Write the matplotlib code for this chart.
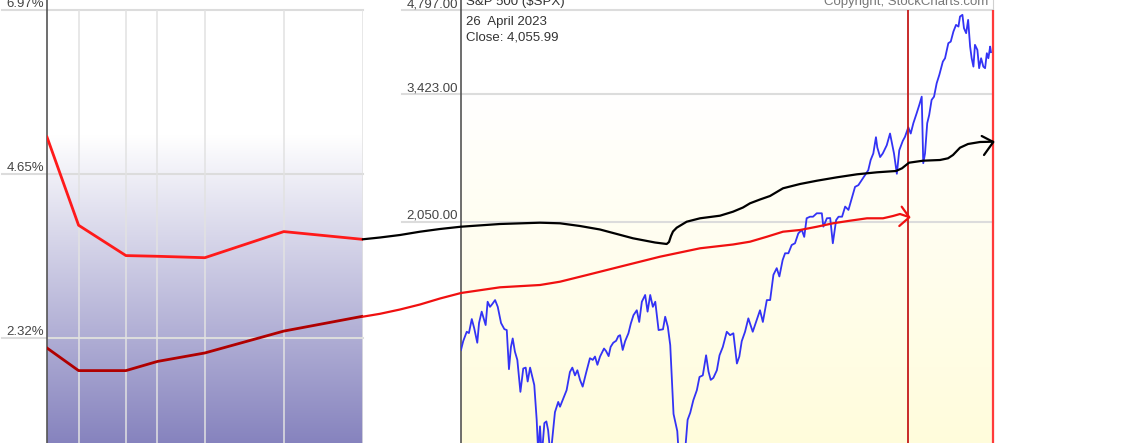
import numpy as np
import matplotlib.pyplot as plt

plt.rcParams['font.family'] = ['Liberation Sans', 'DejaVu Sans']

# left panel: yield curve (two dates)
maturity_pos = [0, 1, 2.5, 3.5, 5, 7.5, 10]
curve_upper = [5.17, 3.92, 3.49, 3.48, 3.46, 3.83, 3.72]
curve_lower = [2.18, 1.86, 1.86, 1.99, 2.11, 2.42, 2.63]
yield_ticks = [2.32, 4.65, 6.97]
yield_labels = ['2.32%', '4.65%', '6.97%']

# right panel: S&P 500 ($SPX), log scale
spx_year = [1999.24, 1999.34, 1999.50, 1999.60, 1999.73, 1999.84, 1999.98, 2000.06, 2000.18, 2000.36,
            2000.45, 2000.56, 2000.66, 2000.79, 2000.91, 2001.06, 2001.21, 2001.32, 2001.42, 2001.51,
            2001.59, 2001.69, 2001.80, 2001.94, 2002.07, 2002.18, 2002.27, 2002.38, 2002.48, 2002.57,
            2002.68, 2002.75, 2002.83, 2002.91, 2003.03, 2003.12, 2003.20, 2003.31, 2003.51, 2003.66,
            2003.74, 2003.89, 2004.04, 2004.19, 2004.30, 2004.42, 2004.53, 2004.65, 2004.77, 2004.92,
            2005.10, 2005.23, 2005.33, 2005.44, 2005.56, 2005.74, 2005.83, 2005.95, 2006.04, 2006.16,
            2006.29, 2006.39, 2006.47, 2006.59, 2006.70, 2006.85, 2006.96, 2007.08, 2007.23, 2007.34,
            2007.46, 2007.61, 2007.72, 2007.84, 2007.96, 2008.07, 2008.22, 2008.42, 2008.52, 2008.64,
            2008.75, 2008.90, 2009.07, 2009.24, 2009.36, 2009.54, 2009.66, 2009.80, 2009.96, 2010.08,
            2010.23, 2010.38, 2010.49, 2010.59, 2010.71, 2010.87, 2010.99, 2011.14, 2011.32, 2011.47,
            2011.62, 2011.78, 2011.89, 2012.00, 2012.15, 2012.30, 2012.50, 2012.65, 2012.83, 2012.96,
            2013.14, 2013.29, 2013.44, 2013.59, 2013.71, 2013.86, 2013.97, 2014.12, 2014.27, 2014.42,
            2014.57, 2014.73, 2014.84, 2014.95, 2015.10, 2015.24, 2015.41, 2015.64, 2015.71, 2015.87,
            2016.02, 2016.14, 2016.29, 2016.40, 2016.56, 2016.70, 2016.85, 2017.00, 2017.15, 2017.30,
            2017.45, 2017.60, 2017.75, 2017.86, 2017.98, 2018.10, 2018.16, 2018.29, 2018.41, 2018.59,
            2018.74, 2018.92, 2019.05, 2019.16, 2019.32, 2019.42, 2019.57, 2019.68, 2019.80, 2019.95,
            2020.07, 2020.18, 2020.25, 2020.33, 2020.43, 2020.52, 2020.63, 2020.74, 2020.86, 2020.98,
            2021.14, 2021.24, 2021.39, 2021.50, 2021.62, 2021.74, 2021.85, 2021.92, 2022.03, 2022.10,
            2022.20, 2022.29, 2022.38, 2022.45, 2022.53, 2022.60, 2022.71, 2022.79, 2022.88, 2022.98,
            2023.06, 2023.14, 2023.21, 2023.29, 2023.33]
spx_close = [1226, 1270, 1319, 1312, 1388, 1338, 1262, 1366, 1430, 1355,
             1488, 1458, 1474, 1498, 1458, 1366, 1333, 1328, 1135, 1241,
             1284, 1218, 1178, 1036, 1138, 1142, 1080, 1142, 1100, 1065,
             926, 810, 902, 800, 914, 920, 888, 800, 955, 995,
             976, 1009, 1043, 1122, 1142, 1107, 1130, 1087, 1058, 1116,
             1186, 1178, 1194, 1155, 1194, 1233, 1221, 1196, 1241, 1262,
             1272, 1296, 1301, 1226, 1270, 1311, 1364, 1410, 1438, 1372,
             1488, 1529, 1430, 1529, 1458, 1488, 1328, 1332, 1401, 1346,
             1250, 948, 885, 700, 760, 926, 953, 1002, 1043, 1100,
             1107, 1200, 1124, 1087, 1096, 1130, 1200, 1241, 1319, 1301,
             1311, 1161, 1194, 1270, 1319, 1392, 1319, 1372, 1438, 1372,
             1498, 1498, 1658, 1703, 1647, 1760, 1808, 1808, 1869, 1882,
             1958, 1986, 1931, 2081, 2094, 2094, 2123, 2123, 2012, 2081,
             2083, 1882, 2066, 2094, 2094, 2181, 2152, 2255, 2361, 2377,
             2425, 2474, 2524, 2630, 2700, 2882, 2767, 2661, 2700, 2790,
             2925, 2700, 2488, 2735, 2840, 2887, 2999, 2925, 3049, 3173,
             3281, 3392, 2596, 2700, 3049, 3152, 3348, 3392, 3580, 3702,
             3905, 3958, 4205, 4232, 4405, 4526, 4495, 4680, 4712, 4466,
             4377, 4618, 4148, 3958, 3827, 4177, 4093, 3803, 3958, 3827,
             3803, 4039, 3958, 4148, 4056]
spx_ticks = [2050, 3423, 4797]
spx_labels = ['2,050.00', '3,423.00', '4,797.00']
marker_years = [2019.56, 2023.42]

# hand-drawn arrows (in picture pixels)
black_x = [362.7, 380, 400, 420, 440, 461, 500, 540, 560, 580, 600, 633, 655, 666.7, 669, 671, 673,
           676.7, 686.7, 700, 720, 733, 743, 750, 760, 770, 783, 800, 817, 837, 857, 877, 896, 902,
           909, 923, 940, 948, 953, 960, 968, 980, 993]
black_y = [239.3, 237.5, 235, 231.7, 229, 226.7, 224, 222.7, 223.3, 226, 229.5, 238.3, 242.5, 244, 242,
           236, 231.5, 227.7, 221.7, 218.3, 215.7, 211.7, 207.5, 203.3, 199.5, 196, 188.3, 184, 180.7,
           177.3, 174.3, 172.3, 171, 168.3, 162.7, 160.7, 160, 158.3, 155, 147.7, 144, 142, 141.7]
black_head_x = [981.7, 993.3, 984]
black_head_y = [136, 142, 155]
red_x = [362.7, 380, 400, 420, 440, 461, 500, 540, 560, 587, 620, 660, 700, 733, 750, 767, 783, 800,
         817, 833, 850, 867, 883, 893, 900, 908]
red_y = [316.7, 313.8, 309.5, 304.5, 298.5, 293, 287.3, 285, 281.7, 275, 266.7, 256.7, 248.3, 244.5,
         241.7, 236.7, 231.7, 230, 226.7, 223.3, 220.7, 218.3, 218.3, 216, 214, 216.7]
red_head_x = [901.7, 909.3, 899.3]
red_head_y = [206.7, 217.3, 226]

W, H = 1137, 443
fig = plt.figure(figsize=(W / 100, H / 100), dpi=100)


def gradient(ax, start_px, color):
    rows = np.arange(H)
    f = np.clip((rows - start_px) / (H - start_px), 0, 1)
    c = np.array(color)
    img = 1 - f[:, None] * (1 - c)[None, :]
    ax.imshow(img[:, None, :], extent=[0, 1, 0, 1], transform=ax.transAxes,
              aspect='auto', zorder=0, interpolation='bilinear')


label_kw = dict(fontsize=9.5, color='#444444')

# ---- left panel
ax1 = fig.add_axes([47 / W, 0, (362.7 - 47) / W, 1])
gradient(ax1, 135, (0.525, 0.513, 0.745))
for v in yield_ticks:
    ax1.axhline(v, xmin=-0.1425, xmax=1, color='#dcdcdc', lw=1.5, clip_on=False, zorder=1)
ax1.vlines(maturity_pos[1:], 0.5, 6.97, color='#e2e2e2', lw=1.1, zorder=1)
ax1.plot(maturity_pos, curve_upper, color='#ff1a1a', lw=2, zorder=3)
ax1.plot(maturity_pos, curve_lower, color='#b00000', lw=2, zorder=3)
ax1.set_xlim(0, 10)
ax1.set_ylim(0.834, 7.112)
ax1.set_xticks([])
ax1.set_yticks(yield_ticks, yield_labels, **label_kw)
for lab in ax1.get_yticklabels():
    lab.set_va('bottom')
ax1.tick_params(axis='y', length=0, pad=2.2)
for s in ['top', 'right', 'bottom']:
    ax1.spines[s].set_visible(False)
ax1.spines['left'].set_color('#555555')
ax1.spines['left'].set_linewidth(1.2)

# ---- right panel
ax2 = fig.add_axes([461 / W, 0, (993 - 461) / W, 1])
gradient(ax2, 90, (1.0, 0.99, 0.86))
ax2.set_yscale('log')
for v in spx_ticks:
    ax2.axhline(v, xmin=-0.1109, xmax=1, color='#dcdcdc', lw=1.5, clip_on=False, zorder=1)
ax2.plot(spx_year, spx_close, color='#3333f5', lw=1.3, zorder=3)
ax2.vlines(marker_years[0], 500, 4797, color='#c41a1a', lw=1.3, zorder=4)
ax2.vlines(marker_years[1], 500, 4797, color='#ff3a3a', lw=1.6, zorder=4, clip_on=False)
ax2.set_xlim(1999.24, 2023.42)
ax2.set_ylim(843.6, 5001.6)
ax2.set_xticks([])
ax2.minorticks_off()
ax2.set_yticks(spx_ticks, spx_labels, **label_kw)
ax2.yaxis.set_minor_locator(plt.NullLocator())
for lab in ax2.get_yticklabels():
    lab.set_va('bottom')
ax2.tick_params(axis='y', length=0, pad=2.2)
for s in ['top', 'bottom']:
    ax2.spines[s].set_visible(False)
ax2.spines['right'].set_color('#d0d0d0')
ax2.spines['left'].set_color('#555555')
ax2.spines['left'].set_linewidth(1.2)

# ---- overlay: hand-drawn arrows and header texts
ov = fig.add_axes([0, 0, 1, 1], zorder=10)
ov.set_xlim(0, W)
ov.set_ylim(H, 0)
ov.axis('off')
ov.patch.set_alpha(0)
ov.plot(black_x, black_y, color='black', lw=1.6, solid_capstyle='round')
ov.plot(black_head_x, black_head_y, color='black', lw=1.6, solid_capstyle='round')
ov.plot(red_x, red_y, color='#f01010', lw=1.6, solid_capstyle='round')
ov.plot(red_head_x, red_head_y, color='#f01010', lw=1.6, solid_capstyle='round')

txt = dict(fontsize=9.5, color='#333333', va='baseline')
ov.text(466, 4.5, 'S&P 500 ($SPX)', **txt)
ov.text(466, 24.5, '26  April 2023', **txt)
ov.text(466, 40.5, 'Close: 4,055.99', **txt)
ov.text(988, 4.5, 'Copyright, StockCharts.com', ha='right', fontsize=9.5, color='#777777', va='baseline')

fig.savefig('out.png', dpi=100)
